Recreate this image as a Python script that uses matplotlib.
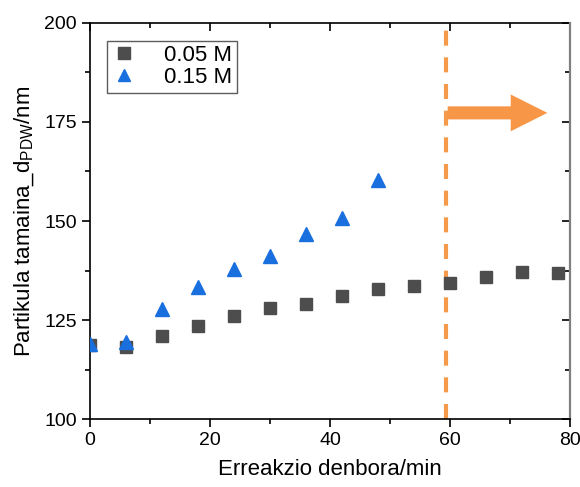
import matplotlib
matplotlib.use("Agg")
import matplotlib.pyplot as plt
from matplotlib.patches import FancyArrow
from matplotlib.ticker import MultipleLocator, NullFormatter

plt.rcParams['font.family'] = ['Liberation Sans', 'DejaVu Sans']

time_005 = [0, 6, 12, 18, 24, 30, 36, 42, 48, 54, 60, 66, 72, 78]
size_005 = [118.7, 118.2, 121.0, 123.5, 126.0, 128.0, 129.0, 131.0, 132.8, 133.6, 134.3, 135.9, 137.1, 136.9]
time_015 = [0, 6, 12, 18, 24, 30, 36, 42, 48]
size_015 = [119.0, 119.4, 127.9, 133.3, 137.9, 141.2, 146.7, 150.7, 160.4]
labels = ['0.05 M', '0.15 M']
vline_x = 59.4

fig = plt.figure(figsize=(5.8, 4.87), dpi=100)
ax = fig.add_axes([0.155, 0.1396, 0.828, 0.8132])

orange = '#f59a4a'
ax.axvline(vline_x, color=orange, lw=3, dashes=(3.6, 2.8), zorder=1)
arr = FancyArrow(59.6, 177.3, 10.5, 0, width=3.3, head_width=9.3, head_length=6.1,
                 length_includes_head=False, color='#f79646', lw=0, zorder=2)
ax.add_patch(arr)

ax.plot(time_005, size_005, ls='none', marker='s', ms=9, color='#4d4d4d', label=labels[0], zorder=3)
ax.plot(time_015, size_015, ls='none', marker='^', ms=10, color='#1a6fdf', label=labels[1], zorder=3)

ax.set_xlim(0, 80)
ax.set_ylim(100, 200)
ax.xaxis.set_major_locator(MultipleLocator(20))
ax.xaxis.set_minor_locator(MultipleLocator(10))
ax.yaxis.set_major_locator(MultipleLocator(25))
ax.yaxis.set_minor_locator(MultipleLocator(12.5))

ax.tick_params(which='both', direction='out', labelsize=14, width=1.2)
ax.tick_params(which='major', length=6)
ax.tick_params(which='minor', length=3.5)
ax.spines['right'].set_visible(False)
ax.spines['top'].set_visible(False)
for s in ['left', 'bottom']:
    ax.spines[s].set_linewidth(1.2)

# inward ticks on top and right
top = ax.secondary_xaxis('top')
top.xaxis.set_major_locator(MultipleLocator(20))
top.xaxis.set_minor_locator(MultipleLocator(10))
top.xaxis.set_major_formatter(NullFormatter())
top.tick_params(which='both', direction='in', width=1.2)
top.tick_params(which='major', length=6)
top.tick_params(which='minor', length=3.5)
top.spines['top'].set_linewidth(1.2)

right = ax.secondary_yaxis('right')
right.yaxis.set_major_locator(MultipleLocator(25))
right.yaxis.set_minor_locator(MultipleLocator(12.5))
right.yaxis.set_major_formatter(NullFormatter())
right.tick_params(which='both', direction='in', width=1.2)
right.tick_params(which='major', length=6)
right.tick_params(which='minor', length=3.5)
right.spines['right'].set_color('#808080')
right.spines['right'].set_linewidth(1.6)

ax.set_xlabel('Erreakzio denbora/min', fontsize=16, labelpad=7)
ax.set_ylabel('Partikula tamaina_d$_\\mathregular{PDW}$/nm', fontsize=16, labelpad=6)

leg = ax.legend(loc='upper left', bbox_to_anchor=(0.035, 0.955), fontsize=16, frameon=True,
                fancybox=False, edgecolor='#333333', handlelength=1.2, handletextpad=1.2,
                borderpad=0.2, labelspacing=0.04, markerscale=0.9, borderaxespad=0)
leg.get_frame().set_linewidth(1.0)

fig.savefig('out.png', dpi=100)
